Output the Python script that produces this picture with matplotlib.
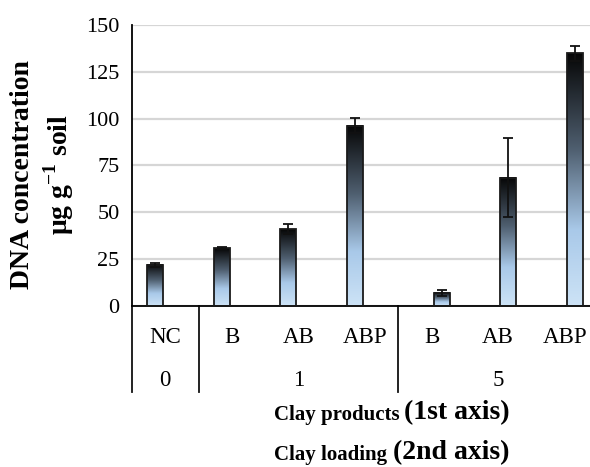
import numpy as np
import matplotlib.pyplot as plt
from matplotlib.colors import LinearSegmentedColormap
from matplotlib.offsetbox import TextArea, HPacker, AnnotationBbox

plt.rcParams['font.family'] = ['Liberation Serif', 'DejaVu Serif']
plt.rcParams['mathtext.fontset'] = 'custom'
plt.rcParams['mathtext.rm'] = 'Liberation Serif:bold'
plt.rcParams['mathtext.bf'] = 'Liberation Serif:bold'

# data
products = ['NC', 'B', 'AB', 'ABP', 'B', 'AB', 'ABP']
loading = ['0', '1', '1', '1', '5', '5', '5']
dna = [22, 30.8, 41.1, 96.1, 7.1, 68.5, 134.9]
dna_err = [1.2, 0.5, 2.5, 4.0, 1.6, 21.0, 4.0]
loading_groups = ['0', '1', '5']

# bars in loading 0/1 sit left of the category centre, loading 5 to the right
shift = [-0.15 if l != '5' else 0.15 for l in loading]
x = np.arange(len(products))
xb = x + np.array(shift)
w = 0.24

cmap = LinearSegmentedColormap.from_list(
    'blu', [(0, '#cde3f6'), (0.3, '#a9c9e9'), (0.62, '#4f5f70'), (1.0, '#060606')])
grad = np.linspace(1, 0, 256).reshape(-1, 1)

fig = plt.figure(figsize=(5.9, 4.67), dpi=100)
ax = fig.add_axes([0.2237, 0.3448, 0.790, 0.6017])

for xi, v in zip(xb, dna):
    ax.imshow(grad, extent=[xi - w / 2, xi + w / 2, 0, v], aspect='auto',
              cmap=cmap, vmin=0, vmax=1, zorder=2, interpolation='bilinear')
ax.bar(xb, dna, width=w, facecolor='none', edgecolor='#1a1a1a', linewidth=1.3, zorder=3)
ax.errorbar(xb, dna, yerr=dna_err, fmt='none', ecolor='#111111', elinewidth=1.3,
            capsize=3.5, capthick=1.3, zorder=4)

ax.set_xlim(-0.5, len(products) - 0.5)
ax.set_ylim(0, 150)
ax.set_yticks(np.arange(0, 151, 25))
ax.yaxis.grid(True, color='#d6d6d6', linewidth=1.6, zorder=0)
ax.set_axisbelow(True)
ax.tick_params(axis='y', length=0, pad=9, labelsize=16)
ax.set_xticks([])
for s in ['top', 'right']:
    ax.spines[s].set_visible(False)
ax.spines['left'].set_linewidth(1.3)
ax.spines['bottom'].set_linewidth(1.3)

# category table below the axis
trans = ax.get_xaxis_transform()
for xd in [-0.5, 0.5, 3.5]:
    ax.plot([xd, xd], [0, -0.306], color='#111111', linewidth=1.3,
            transform=trans, clip_on=False)
for xi, p in zip(x, products):
    ax.text(xi, -0.112, p, transform=trans, ha='center', va='center', fontsize=16.5)
for g in loading_groups:
    idx = [i for i, l in enumerate(loading) if l == g]
    ax.text(np.mean(idx), -0.264, g, transform=trans, ha='center', va='center', fontsize=16.5)

fig.text(0.073, 0.627, 'DNA concentration\n' + r'μg g$^{-1}$ soil',
         rotation=90, ha='center', va='center', fontsize=20, fontweight='bold',
         linespacing=1.25)

for label, sub, yy in [('Clay products ', '(1st axis)', 0.1156),
                       ('Clay loading ', '(2nd axis)', 0.030)]:
    box = HPacker(children=[TextArea(label, textprops=dict(fontsize=15, fontweight='bold')),
                            TextArea(sub, textprops=dict(fontsize=20, fontweight='bold'))],
                  align='baseline', pad=0, sep=0)
    ab = AnnotationBbox(box, (0.664, yy), xycoords='figure fraction', frameon=False,
                        box_alignment=(0.5, 0.5))
    fig.add_artist(ab)

fig.savefig('out.png', dpi=100)
